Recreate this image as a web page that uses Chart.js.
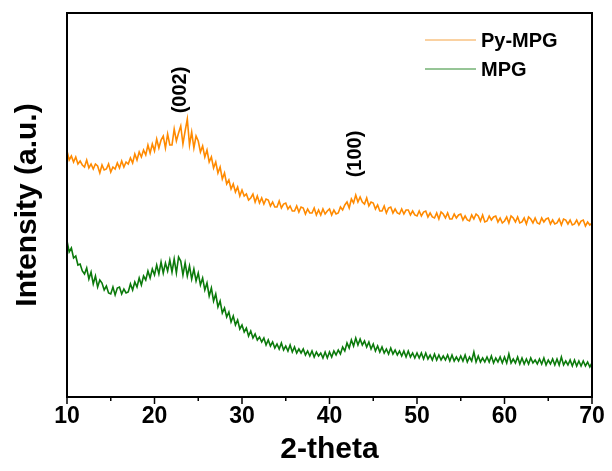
<!doctype html>
<html lang="en">
  <head>
    <meta charset="UTF-8" />
    <title>XRD: Py-MPG vs MPG</title>
    <script src="https://cdn.jsdelivr.net/npm/chart.js@4"></script>
    <style>
      body { margin: 0; background: #fff; }
      #wrap { width: 612px; height: 471px; }
    </style>
  </head>
  <body>
    <div id="wrap"><canvas id="xrd" width="612" height="471"></canvas></div>

    <script>
      // scan grid: 10 to 70 degrees, 0.25 degree step
      const angleStart = 10
      const angleStep = 0.25

      const seriesNames = ['Py-MPG', 'MPG']
      const xTicks = [10, 20, 30, 40, 50, 60, 70]
      const peakLabels = ['(002)', '(100)']
      const peakAngles = [23, 43]
      const peakLabelHeights = [307, 243]

      // intensity (arbitrary units), one row per degree
      const pyMpg = [
        246, 237, 241, 235, 240, 233, 236, 232, 230, 237, 229, 233, 228, 233, 231, 224,
        232, 227, 228, 233, 225, 230, 228, 234, 229, 236, 230, 235, 233, 239, 234, 243,
        237, 245, 240, 247, 242, 252, 244, 253, 246, 258, 249, 257, 261, 249, 263, 252,
        252, 268, 256, 264, 271, 253, 266, 278, 252, 265, 249, 261, 256, 245, 251, 240,
        247, 235, 240, 229, 235, 224, 230, 218, 224, 213, 217, 208, 213, 205, 210, 201,
        207, 201, 203, 197, 199, 203, 195, 201, 194, 199, 193, 198, 197, 191, 195, 190,
        190, 196, 189, 193, 194, 188, 191, 186, 186, 191, 185, 190, 189, 183, 188, 184,
        184, 189, 182, 187, 182, 188, 183, 186, 188, 182, 187, 183, 184, 190, 187, 192,
        195, 189, 198, 194, 202, 195, 200, 195, 193, 199, 191, 195, 194, 188, 192, 186,
        186, 191, 184, 189, 190, 184, 188, 184, 183, 188, 183, 187, 187, 182, 186, 182,
        181, 186, 181, 185, 186, 180, 184, 180, 179, 184, 178, 185, 183, 179, 184, 178,
        178, 183, 179, 182, 183, 177, 181, 177, 176, 182, 178, 183, 181, 176, 182, 175,
        176, 181, 177, 180, 181, 175, 179, 174, 176, 180, 174, 181, 179, 175, 180, 174,
        175, 179, 173, 180, 178, 174, 179, 174, 173, 179, 175, 178, 179, 173, 177, 173,
        174, 178, 172, 178, 177, 173, 177, 172, 173, 177, 172, 176, 177, 171, 175, 172,
        174,
      ]
      const mpg = [
        156, 145, 149, 139, 141, 132, 133, 126, 123, 129, 118, 125, 113, 121, 110, 117,
        114, 107, 111, 104, 103, 110, 102, 109, 110, 103, 108, 104, 105, 113, 107, 115,
        110, 119, 112, 121, 117, 126, 119, 128, 122, 132, 123, 135, 124, 134, 126, 137,
        125, 138, 124, 140, 136, 122, 134, 121, 131, 118, 128, 116, 124, 112, 119, 107,
        114, 101, 109, 96, 103, 90, 96, 84, 89, 80, 85, 75, 81, 72, 77, 68,
        72, 65, 69, 61, 66, 59, 63, 57, 60, 55, 59, 52, 57, 51, 55, 49,
        53, 48, 54, 47, 51, 46, 52, 45, 50, 44, 48, 44, 48, 42, 46, 41,
        46, 40, 45, 41, 44, 39, 45, 39, 45, 40, 46, 42, 47, 43, 50, 46,
        54, 49, 57, 51, 59, 52, 58, 52, 56, 50, 55, 48, 53, 46, 51, 45,
        50, 44, 48, 43, 49, 43, 47, 42, 46, 41, 46, 40, 46, 40, 44, 39,
        44, 39, 44, 38, 44, 38, 42, 37, 43, 37, 42, 37, 41, 37, 42, 36,
        42, 36, 40, 36, 41, 36, 42, 35, 40, 36, 45, 35, 41, 35, 39, 35,
        40, 35, 41, 34, 39, 35, 40, 34, 40, 34, 43, 34, 38, 34, 40, 33,
        39, 33, 38, 33, 39, 34, 37, 33, 38, 33, 39, 32, 37, 33, 38, 32,
        38, 32, 40, 32, 36, 32, 37, 31, 37, 31, 36, 31, 36, 31, 35, 30,
        34,
      ]

      const toPoints = (values) => values.map((v, i) => ({ x: angleStart + i * angleStep, y: v }))

      const fontFamily = '"Liberation Sans", Arial, sans-serif'

      // frame, tick marks, legend and peak labels
      const decorations = {
        id: 'decorations',
        afterDraw(chart) {
          const { ctx, chartArea: a, scales } = chart
          const xs = scales.x
          const ys = scales.y
          ctx.save()
          ctx.strokeStyle = '#000'
          ctx.lineWidth = 2
          ctx.strokeRect(a.left, a.top, a.right - a.left, a.bottom - a.top)

          ctx.lineWidth = 1.5
          for (let v = 10; v <= 70; v += 5) {
            const px = xs.getPixelForValue(v)
            const len = v % 10 === 0 ? 7 : 4
            ctx.beginPath()
            ctx.moveTo(px, a.bottom)
            ctx.lineTo(px, a.bottom + len)
            ctx.stroke()
          }

          // legend
          ctx.font = 'bold 20px ' + fontFamily
          ctx.textBaseline = 'middle'
          ctx.fillStyle = '#000'
          chart.data.datasets.forEach((ds, i) => {
            const y = 40 + i * 29
            ctx.strokeStyle = ds.legendColor
            ctx.lineWidth = 1
            ctx.beginPath()
            ctx.moveTo(425, y)
            ctx.lineTo(476, y)
            ctx.stroke()
            ctx.fillText(ds.label, 481, y + 1)
          })

          // peak labels, rotated
          ctx.font = 'bold 20px ' + fontFamily
          ctx.textAlign = 'center'
          peakLabels.forEach((txt, i) => {
            ctx.save()
            ctx.translate(xs.getPixelForValue(peakAngles[i]), ys.getPixelForValue(peakLabelHeights[i]))
            ctx.rotate(-Math.PI / 2)
            ctx.fillText(txt, 0, 0)
            ctx.restore()
          })
          ctx.restore()
        },
      }

      new Chart(document.getElementById('xrd'), {
        type: 'line',
        data: {
          datasets: [
            {
              label: seriesNames[0],
              data: toPoints(pyMpg),
              borderColor: '#ff8a00',
              legendColor: '#f5a445',
              borderWidth: 1.6,
              pointRadius: 0,
              tension: 0,
            },
            {
              label: seriesNames[1],
              data: toPoints(mpg),
              borderColor: '#0b7a0b',
              legendColor: '#2e8b2e',
              borderWidth: 1.6,
              pointRadius: 0,
              tension: 0,
            },
          ],
        },
        options: {
          responsive: false,
          animation: false,
          layout: { padding: { top: 13, right: 20, left: 0, bottom: 0 } },
          plugins: { legend: { display: false }, tooltip: { enabled: false } },
          scales: {
            x: {
              type: 'linear',
              min: 10,
              max: 70,
              afterBuildTicks: (scale) => {
                scale.ticks = xTicks.map((v) => ({ value: v }))
              },
              afterFit: (scale) => {
                scale.height = 74
              },
              ticks: {
                color: '#000',
                padding: 6,
                maxRotation: 0,
                font: { family: fontFamily, size: 23, weight: 'bold' },
              },
              grid: { display: false, drawTicks: false },
              border: { display: false },
              title: {
                display: true,
                text: '2-theta',
                color: '#000',
                padding: { top: 0, bottom: 3 },
                font: { family: fontFamily, size: 30, weight: 'bold' },
              },
            },
            y: {
              min: 0,
              max: 384,
              afterFit: (scale) => {
                scale.width = 67
              },
              ticks: { display: false },
              grid: { display: false, drawTicks: false },
              border: { display: false },
              title: {
                display: true,
                text: 'Intensity (a.u.)',
                color: '#000',
                padding: { top: 10, bottom: 0 },
                font: { family: fontFamily, size: 30, weight: 'bold' },
              },
            },
          },
        },
        plugins: [decorations],
      })
    </script>
  </body>
</html>
